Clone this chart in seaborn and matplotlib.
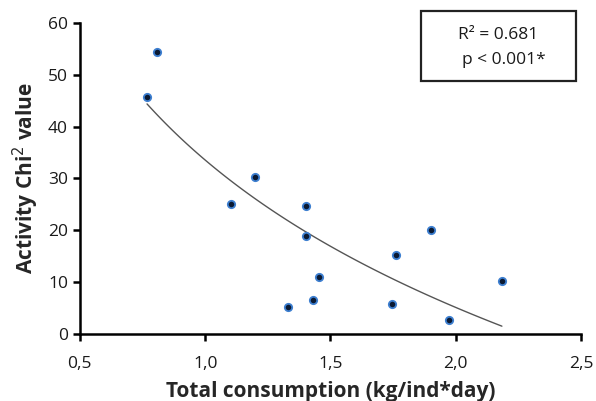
import numpy as np
import pandas as pd
import matplotlib
matplotlib.use("Agg")
import matplotlib.pyplot as plt
import seaborn as sns
from matplotlib.patches import Rectangle

# values
consumption = [0.768, 0.808, 1.104, 1.200, 1.404, 1.404, 1.332, 1.432, 1.456,
               1.760, 1.744, 1.900, 1.972, 2.184]
chi2 = [45.7, 54.4, 25.1, 30.3, 24.6, 18.9, 5.2, 6.6, 11.0,
        15.2, 5.8, 20.1, 2.7, 10.2]
x_ticks = [0.5, 1.0, 1.5, 2.0, 2.5]
x_labels = ["0,5", "1,0", "1,5", "2,0", "2,5"]
y_ticks = [0, 10, 20, 30, 40, 50, 60]
r2_text = "R² = 0.681"
p_text = "p < 0.001*"

df = pd.DataFrame({"consumption": consumption, "chi2": chi2})

sns.set_style("ticks")
plt.rcParams["font.family"] = ["Open Sans", "DejaVu Sans"]

fig = plt.figure(figsize=(5.96, 4.01), dpi=100)
ax = fig.add_axes([0.134, 0.167, 0.841, 0.776])

# logarithmic trend line
sns.regplot(data=df, x="consumption", y="chi2", logx=True, ci=None,
            scatter=False, ax=ax, line_kws={"color": "#555555", "lw": 1.0})
sns.scatterplot(data=df, x="consumption", y="chi2", ax=ax, s=28,
                color="#0b1a33", edgecolor="#3d7fd0", linewidth=1.3, zorder=3)

ax.set_xlim(0.5, 2.5)
ax.set_ylim(0, 60)
ax.set_xticks(x_ticks)
ax.set_xticklabels(x_labels)
ax.set_yticks(y_ticks)
ax.tick_params(axis="both", labelsize=12.5, width=1.8, length=5, color="black",
               labelcolor="#1a1a1a")
ax.tick_params(axis="x", pad=11)
for side in ["left", "bottom"]:
    ax.spines[side].set_linewidth(1.8)
    ax.spines[side].set_color("black")
sns.despine(ax=ax)

ax.set_xlabel("Total consumption (kg/ind*day)", fontsize=15, fontweight="bold",
              labelpad=6)
ax.set_ylabel("Activity Chi$^2$ value", fontsize=15, fontweight="bold",
              labelpad=5)

# statistics box
fig.patches.append(Rectangle((0.706, 0.798), 0.260, 0.175,
                             transform=fig.transFigure, fc="white",
                             ec="#222222", lw=1.6))
fig.text(0.836, 0.913, r2_text, ha="center", va="center", fontsize=12.5,
         color="#1a1a1a")
fig.text(0.845, 0.851, p_text, ha="center", va="center", fontsize=12.5,
         color="#1a1a1a")

fig.savefig("out.png", dpi=100)
